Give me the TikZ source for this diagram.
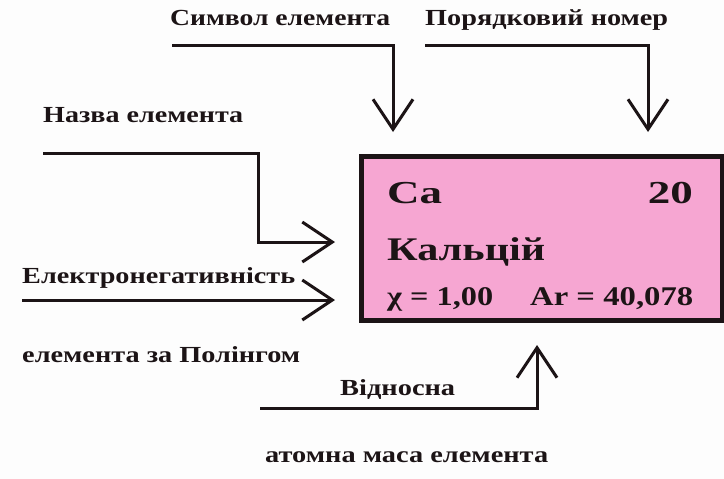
\documentclass[tikz,border=0pt]{standalone}
\usepackage{graphicx}
\usepackage{fontspec}
\setmainfont{Liberation Serif}
\usetikzlibrary{arrows.meta}
\definecolor{ink}{RGB}{28,20,22}
\definecolor{cellpink}{RGB}{246,166,210}
\definecolor{bg}{RGB}{253,253,253}
\newcommand\fw[2]{\resizebox{#1pt}{\height}{#2}}
\begin{document}
\begin{tikzpicture}[x=1pt,y=-1pt,
  lbl/.style={anchor=base west, inner sep=0pt, text=ink,
    font=\fontsize{23}{27}\selectfont\bfseries},
  cell/.style={inner sep=0pt, text=ink, font=\bfseries},
  arr/.style={draw=ink, line width=3pt, line join=miter,
    -{Straight Barb[length=30pt,width=40pt]}}]
\clip (0,0) rectangle (724,479);
\fill[bg] (0,0) rectangle (724,479);
% element cell
\node[draw=ink, fill=cellpink, line width=5pt, inner sep=0pt,
  minimum width=361pt, minimum height=163.5pt] (box) at (541.5,238.25) {};
\node[cell, anchor=base west, font=\fontsize{32}{36}\selectfont\bfseries] (sym) at (387,203) {\fw{55}{Ca}};
\node[cell, anchor=base east, font=\fontsize{32}{36}\selectfont\bfseries] (num) at (693,203) {\fw{45}{20}};
\node[cell, anchor=base west, font=\fontsize{33}{37}\selectfont\bfseries] (name) at (387,260) {\fw{158}{Кальцій}};
\node[cell, anchor=base west, font=\fontsize{27}{31}\selectfont\bfseries] (chi) at (387,305) {\fw{106}{χ = 1,00}};
\node[cell, anchor=base west, font=\fontsize{27}{31}\selectfont\bfseries] (ar) at (530,305) {\fw{163}{Ar = 40,078}};
% labels
\node[lbl] (l1) at (170,25) {\fw{220}{Символ елемента}};
\node[lbl] (l2) at (425,25) {\fw{243}{Порядковий номер}};
\node[lbl] (l3) at (43,122) {\fw{200}{Назва елемента}};
\node[lbl] (l4) at (22,283) {\fw{273}{Електронегативність}};
\node[lbl] (l4b) at (22,362) {\fw{278}{елемента за Полінгом}};
\node[lbl] (l5) at (340,395) {\fw{115}{Відносна}};
\node[lbl] (l5b) at (265,462) {\fw{283}{атомна маса елемента}};
% connector points
\coordinate (a1) at (172,45);  \coordinate (t1) at (393,132);
\coordinate (a2) at (425,45);  \coordinate (t2) at (648,132);
\coordinate (a3) at (43,153);  \coordinate (b3) at (258,242); \coordinate (t3) at (335,242);
\coordinate (a4) at (22,300);  \coordinate (t4) at (335,300);
\coordinate (a5) at (260,408); \coordinate (t5) at (537,345);
% connectors
\draw[arr] (a1) -| (t1);
\draw[arr] (a2) -| (t2);
\draw[arr] (a3) -| (b3) -- (t3);
\draw[arr] (a4) -- (t4);
\draw[arr] (a5) -| (t5);
\end{tikzpicture}
\end{document}
